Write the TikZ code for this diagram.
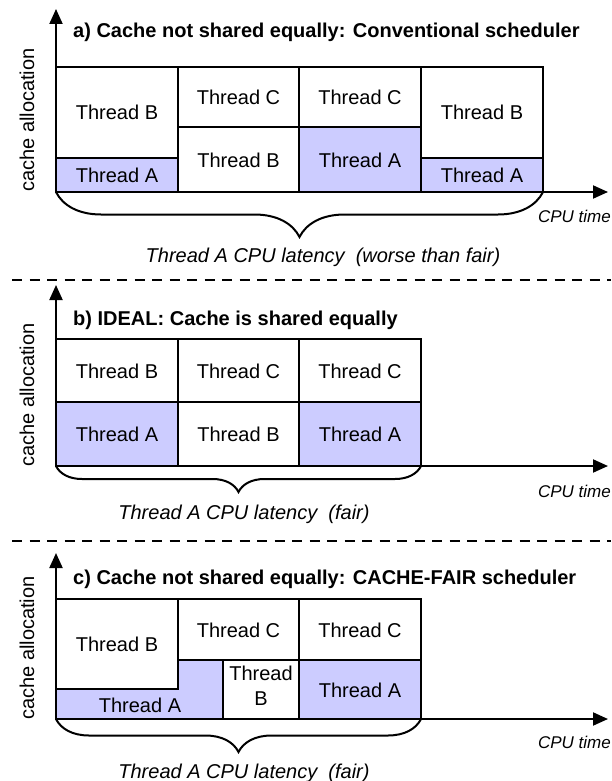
\documentclass[tikz,border=0pt]{standalone}
\usepackage{fontspec}
\setmainfont{Liberation Sans}
\usetikzlibrary{arrows.meta,decorations.pathreplacing}
\definecolor{lavender}{RGB}{204,204,255}
\begin{document}
\begin{tikzpicture}[x=1pt, y=-1pt,
    cell/.style={draw, line width=2pt},
    acell/.style={cell, fill=lavender},
    txt/.style={font=\fontsize{20}{25}\selectfont, inner sep=0pt, align=center},
    ttl/.style={font=\fontsize{20}{24}\selectfont\bfseries, inner sep=0pt, anchor=base west},
    ylab/.style={txt, rotate=90},
    tlab/.style={font=\fontsize{17}{20}\selectfont\itshape, inner sep=0pt, anchor=base east},
    lat/.style={font=\fontsize{20}{24}\selectfont\itshape, inner sep=0pt, anchor=base},
    axis/.style={line width=2pt, -{Triangle[length=15pt, width=13pt]}},
    sep/.style={line width=2.5pt, dash pattern=on 10pt off 7.5pt},
    brc/.style={line width=2pt, decorate, decoration={brace, mirror, amplitude=#1}}]
\useasboundingbox (0,0) rectangle (611,781);

% a) conventional scheduler
\draw[cell] (56,67) rectangle (178,158);
\draw[acell] (56,158) rectangle (178,192);
\draw[cell] (178,67) rectangle (299,127);
\draw[cell] (178,127) rectangle (299,192);
\draw[cell] (299,67) rectangle (421,127);
\draw[acell] (299,127) rectangle (421,192);
\draw[cell] (421,67) rectangle (543,158);
\draw[acell] (421,158) rectangle (543,192);
\foreach \x/\y/\t [count=\i] in {117/112/B, 117/175/A, 238.5/97/C, 238.5/160/B,
    360/97/C, 360/160/A, 482/112/B, 482/175/A}
    \node[txt] (a\i) at (\x,\y) {Thread \t};
\node[ttl] (atitle) at (73,38) {a) Cache not shared equally: Conventional scheduler};

% b) ideal
\draw[cell] (56,339) rectangle (178,402);
\draw[acell] (56,402) rectangle (178,466);
\draw[cell] (178,339) rectangle (299,402);
\draw[cell] (178,402) rectangle (299,466);
\draw[cell] (299,339) rectangle (421,402);
\draw[acell] (299,402) rectangle (421,466);
\foreach \x/\y/\t [count=\i] in {117/371/B, 117/434/A, 238.5/371/C, 238.5/434/B,
    360/371/C, 360/434/A}
    \node[txt] (b\i) at (\x,\y) {Thread \t};
\node[ttl] (btitle) at (73,325) {b) IDEAL: Cache is shared equally};

% c) cache-fair scheduler
\draw[cell] (56,599) rectangle (178,689);
\draw[acell] (56,689) -- (56,719) -- (223,719) -- (223,660) -- (178,660)
    -- (178,689) -- cycle;
\draw[cell] (178,599) rectangle (299,660);
\draw[cell] (223,660) rectangle (299,719);
\draw[cell] (299,599) rectangle (421,660);
\draw[acell] (299,660) rectangle (421,719);
\foreach \x/\y/\t [count=\i] in {117/644/B, 140/705/A, 238.5/630/C,
    360/630/C, 360/690/A}
    \node[txt] (c\i) at (\x,\y) {Thread \t};
\node[txt] (c6) at (261,686) {Thread\\B};
\node[ttl] (ctitle) at (73,584) {c) Cache not shared equally: CACHE-FAIR scheduler};

\foreach \p/\o/\t/\l in {a/192/9/120, b/466/285/395, c/719/553/648} {
    \coordinate (\p o) at (56,\o);
    \coordinate (\p top) at (56,\t);
    \coordinate (\p end) at (608,\o);
    \draw[axis] (\p o) -- (\p top);
    \draw[axis] (\p o) -- (\p end);
    \node[ylab] (\p ylab) at (27,\l) {cache allocation};
}
\node[tlab] (atime) at (611,222) {CPU time};
\node[tlab] (btime) at (611,497) {CPU time};
\node[tlab] (ctime) at (611,748) {CPU time};

\coordinate (abr) at (543,192);
\coordinate (bbr) at (421,466);
\coordinate (cbr) at (421,719);
\draw[brc=45pt] (ao) -- (abr);
\draw[brc=26pt] (bo) -- (bbr);
\draw[brc=33pt] (co) -- (cbr);
\node[lat] (alat) at (323,262) {Thread A CPU latency \ (worse than fair)};
\node[lat] (blat) at (244,519) {Thread A CPU latency \ (fair)};
\node[lat] (clat) at (244,778) {Thread A CPU latency \ (fair)};

\draw[sep] (12,280) -- (611,280);
\draw[sep] (12,541) -- (611,541);
\end{tikzpicture}
\end{document}
